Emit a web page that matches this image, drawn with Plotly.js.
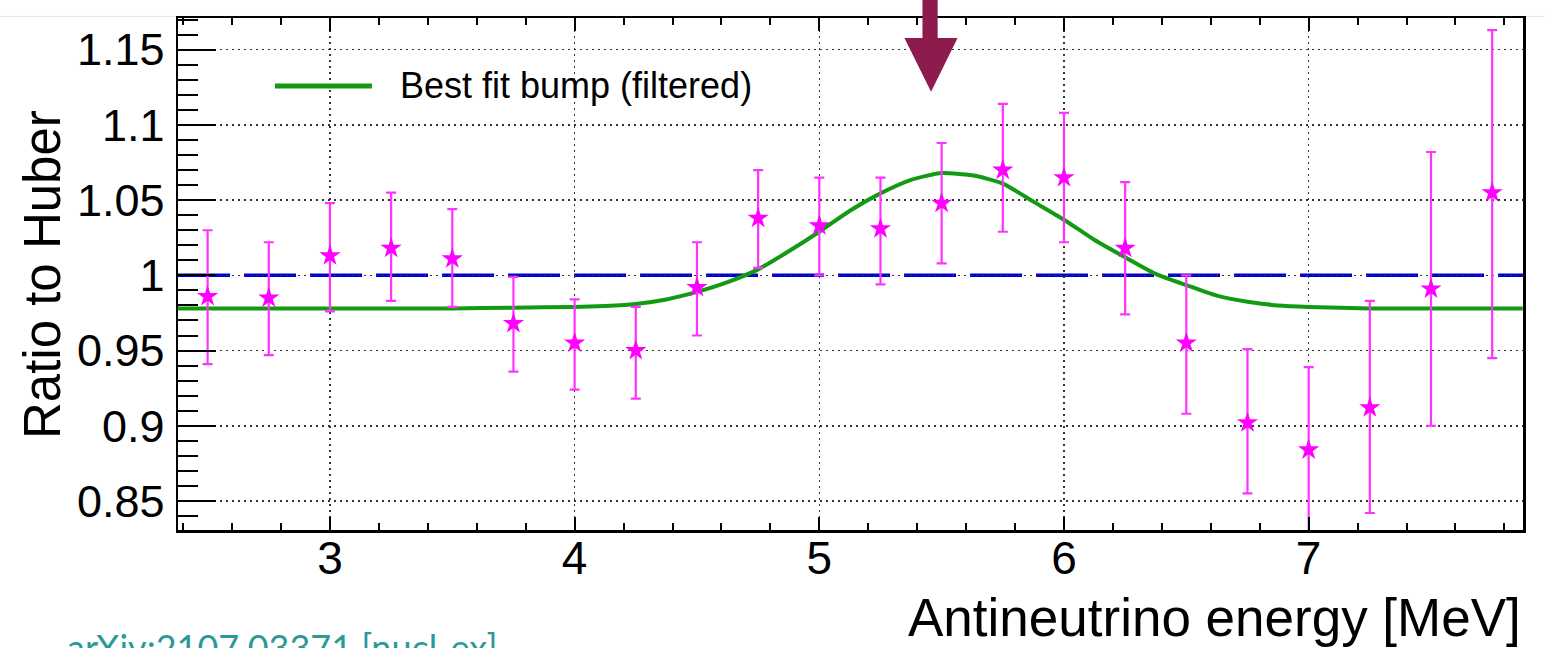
<!DOCTYPE html>
<html>
<head>
<meta charset="utf-8">
<script src="https://cdn.plot.ly/plotly-3.0.1.min.js"></script>
<style>
  html, body { margin: 0; padding: 0; background: #ffffff; }
  #chart { width: 1545px; height: 648px; }
</style>
</head>
<body>
<div id="chart"></div>
<script>
// ---- data ----
const energy = [2.5, 2.75, 3.0, 3.25, 3.5, 3.75, 4.0, 4.25, 4.5, 4.75, 5.0, 5.25, 5.5, 5.75, 6.0, 6.25, 6.5, 6.75, 7.0, 7.25, 7.5, 7.75];
const ratio  = [0.986, 0.985, 1.013, 1.018, 1.011, 0.968, 0.955, 0.950, 0.992, 1.038, 1.033, 1.031, 1.048, 1.070, 1.065, 1.018, 0.955, 0.902, 0.884, 0.912, 0.991, 1.055];
const upper  = [1.030, 1.022, 1.048, 1.055, 1.044, 0.999, 0.984, 0.979, 1.022, 1.070, 1.065, 1.065, 1.088, 1.114, 1.108, 1.062, 1.000, 0.951, 0.939, 0.983, 1.082, 1.163];
const lower  = [0.941, 0.947, 0.976, 0.983, 0.979, 0.936, 0.924, 0.918, 0.960, 1.005, 1.000, 0.994, 1.008, 1.029, 1.022, 0.974, 0.908, 0.855, 0.828, 0.842, 0.900, 0.945];

const fitEnergy = [2.375, 3.0, 3.5, 3.75, 4.0, 4.125, 4.25, 4.375, 4.5, 4.625, 4.75, 4.875, 5.0, 5.125, 5.25, 5.375, 5.5, 5.625, 5.75, 5.875, 6.0, 6.125, 6.25, 6.375, 6.5, 6.625, 6.75, 6.875, 7.0, 7.25, 7.5, 7.875];
const fitRatio  = [0.978, 0.978, 0.978, 0.9785, 0.979, 0.9797, 0.981, 0.984, 0.989, 0.9955, 1.004, 1.016, 1.029, 1.043, 1.0545, 1.0635, 1.068, 1.0665, 1.061, 1.049, 1.037, 1.0235, 1.012, 1.001, 0.9935, 0.9865, 0.9825, 0.980, 0.979, 0.978, 0.978, 0.978];

const refRatio = 1.0;
const legendLabel = "Best fit bump (filtered)";
const xTitle = "Antineutrino energy [MeV]";
const yTitle = "Ratio to Huber";
const sourceText = "arXiv:2107.03371 [nucl-ex]";

// ---- derived ----
const errPlus  = upper.map((u, i) => u - ratio[i]);
const errMinus = ratio.map((r, i) => r - lower[i]);

const fitTrace = {
  x: fitEnergy, y: fitRatio, type: 'scatter', mode: 'lines',
  name: legendLabel,
  line: { color: '#139a13', width: 4, shape: 'spline', smoothing: 0.6 },
  showlegend: false, hoverinfo: 'skip'
};

const dataTrace = {
  x: energy, y: ratio, type: 'scatter', mode: 'markers',
  name: 'Data',
  marker: { symbol: 'star', size: 16, color: '#ff00ff', line: { width: 0 } },
  error_y: {
    type: 'data', symmetric: false, array: errPlus, arrayminus: errMinus,
    color: '#ff33ff', thickness: 2.2, width: 5, visible: true
  },
  showlegend: false
};

const fontFam = '"Liberation Sans", Arial, Helvetica, sans-serif';

const layout = {
  width: 1545, height: 648,
  margin: { l: 178, r: 22, t: 18, b: 118 },
  paper_bgcolor: '#ffffff', plot_bgcolor: '#ffffff',
  font: { family: fontFam, color: '#000000' },
  xaxis: {
    range: [2.379, 7.876],
    tickmode: 'linear', tick0: 3, dtick: 1,
    ticks: 'inside', ticklen: 13, tickwidth: 2, tickcolor: '#000',
    minor: { ticks: 'inside', ticklen: 7, tickwidth: 2, tickcolor: '#000', dtick: 0.2, tick0: 3, showgrid: false },
    showline: true, linecolor: '#000', linewidth: 2.5, mirror: 'allticks',
    showgrid: true, gridcolor: '#333333', gridwidth: 1.5, griddash: '2px,4px',
    zeroline: false,
    tickfont: { size: 46, family: fontFam, color: '#000' },
    ticklabelstandoff: -14
  },
  yaxis: {
    range: [0.8307, 1.1711],
    tickmode: 'linear', tick0: 0.85, dtick: 0.05,
    ticks: 'inside', ticklen: 38, tickwidth: 2, tickcolor: '#000',
    minor: { ticks: 'inside', ticklen: 20, tickwidth: 2, tickcolor: '#000', dtick: 0.01, tick0: 0.85, showgrid: false },
    showline: true, linecolor: '#000', linewidth: 2.5, mirror: true,
    showgrid: true, gridcolor: '#333333', gridwidth: 1.5, griddash: '2px,4px',
    zeroline: false,
    tickfont: { size: 45, family: fontFam, color: '#000' },
    ticklabelstandoff: 2
  },
  shapes: [
    // faint slide header rule
    { type: 'line', xref: 'paper', yref: 'paper', x0: -0.14, x1: 1.02, y0: 1.003, y1: 1.003,
      line: { color: '#e6e6e6', width: 1 }, layer: 'below' },
    // blue reference line at ratio 1
    { type: 'line', xref: 'paper', yref: 'y', x0: 0, x1: 1, y0: refRatio, y1: refRatio,
      line: { color: '#0000d8', width: 3.5, dash: '52px,14px' }, layer: 'below' },
    // legend line sample
    { type: 'line', xref: 'paper', yref: 'paper', x0: 0.0721, x1: 0.1442, y0: 0.8672, y1: 0.8672,
      line: { color: '#139a13', width: 5 } },
    // arrow
    { type: 'path', xref: 'paper', yref: 'paper',
      path: 'M 0.5535 1.05 L 0.5648 1.05 L 0.5648 0.961 L 0.5796 0.961 L 0.5599 0.856 L 0.5401 0.961 L 0.5535 0.961 Z',
      fillcolor: '#8e1b4e', line: { width: 0 } }
  ],
  annotations: [
    { xref: 'paper', yref: 'paper', x: 0.1636, y: 0.8672, xanchor: 'left', yanchor: 'middle',
      text: legendLabel, showarrow: false, font: { size: 36, family: fontFam, color: '#000' } },
    { xref: 'paper', yref: 'paper', x: 1.0, y: -0.171, xanchor: 'right', yanchor: 'middle',
      text: xTitle, showarrow: false, font: { size: 53, family: fontFam, color: '#000' } },
    { xref: 'paper', yref: 'paper', x: -0.1011, y: 0.498, xanchor: 'center', yanchor: 'middle',
      textangle: -90, text: yTitle, showarrow: false, font: { size: 51, family: fontFam, color: '#000' } },
    { xref: 'paper', yref: 'paper', x: -0.084, y: -0.181, xanchor: 'left', yanchor: 'top',
      text: sourceText, showarrow: false, font: { size: 36, family: 'Lato, "Open Sans", sans-serif', color: '#2a9a96' } }
  ]
};

Plotly.newPlot('chart', [fitTrace, dataTrace], layout, { displayModeBar: false, staticPlot: true });
</script>
</body>
</html>
